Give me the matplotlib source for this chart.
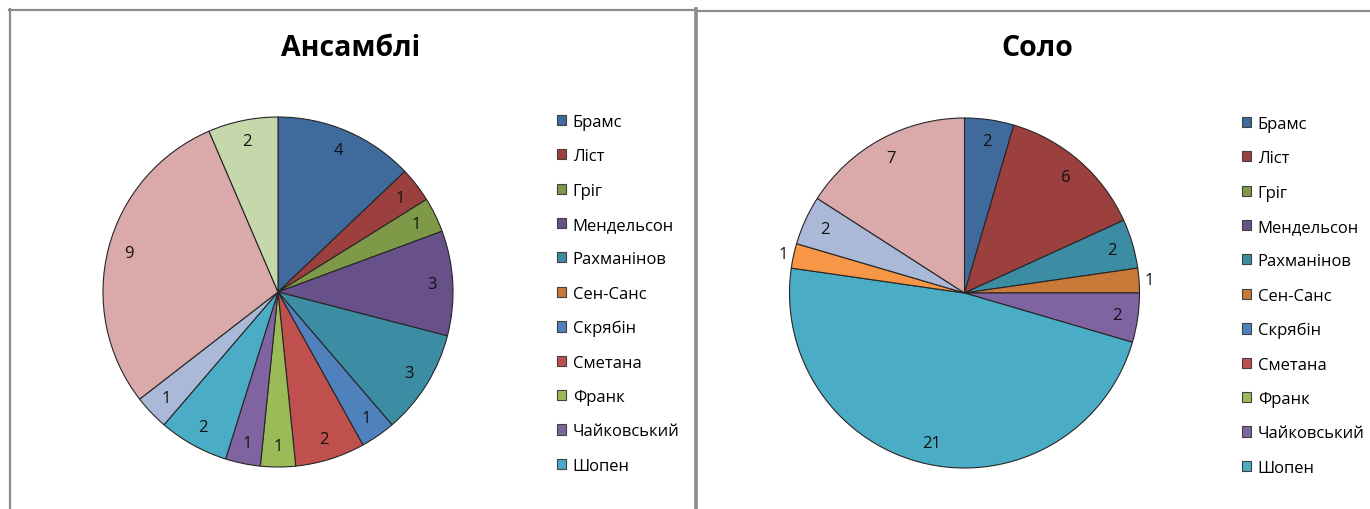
import matplotlib
matplotlib.use('Agg')
import matplotlib.pyplot as plt
from matplotlib.patches import Patch
from matplotlib.lines import Line2D
import numpy as np

plt.rcParams['font.family'] = ['Open Sans', 'DejaVu Sans']

# Categories (the last four are cut off from the legend in the original chart)
composers = ['Брамс', 'Ліст', 'Гріг', 'Мендельсон', 'Рахманінов', 'Сен-Санс',
             'Скрябін', 'Сметана', 'Франк', 'Чайковський', 'Шопен',
             '', '', '', '']
legend_count = 11

ensemble_values = [4, 1, 1, 3, 3, 0, 1, 2, 1, 1, 2, 0, 1, 9, 2]
solo_values = [2, 6, 0, 0, 2, 1, 0, 0, 0, 2, 21, 1, 2, 7, 0]

colors = ['#3F6A9C', '#9B403E', '#7E9A48', '#685088', '#3C8DA3', '#C97A38',
          '#4F81BD', '#C0504D', '#9BBB59', '#8064A2', '#4BACC6', '#F79646',
          '#AAB9D7', '#D9AAA9', '#C6D7AC']

titles = ['Ансамблі', 'Соло']

W, H = 1370, 510
fig = plt.figure(figsize=(W / 100, H / 100), dpi=100)


def px_axes(x0, y0, x1, y1):
    return fig.add_axes([x0 / W, 1 - y1 / H, (x1 - x0) / W, (y1 - y0) / H])


def fx(x):
    return x / W


def fy(y):
    return 1 - y / H


# panel borders
border = '#8C8C8C'
fig.add_artist(Line2D([fx(9.5), fx(9.5)], [fy(10), fy(512)], color=border, lw=1.6))
fig.add_artist(Line2D([fx(9), fx(695)], [fy(10.5), fy(10.5)], color=border, lw=1.6))
fig.add_artist(Line2D([fx(696), fx(696)], [fy(10), fy(512)], color=border, lw=2.6))
fig.add_artist(Line2D([fx(697), fx(1372)], [fy(11.8), fy(11.8)], color=border, lw=1.6))


def draw(values, center, title, title_xy, legend_xy):
    cx, cy = center
    r = 175
    ax = px_axes(cx - r, cy - r, cx + r, cy + r)
    vals = [v for v in values if v > 0]
    cols = [c for v, c in zip(values, colors) if v > 0]
    wedges, _ = ax.pie(vals, colors=cols, startangle=90, counterclock=False,
                       wedgeprops=dict(edgecolor='#262626', linewidth=0.8))
    ax.set_xlim(-1, 1)
    ax.set_ylim(-1, 1)
    ax.set_aspect('equal')
    ax.axis('off')
    total = sum(vals)
    for w, v in zip(wedges, vals):
        ang = np.deg2rad((w.theta1 + w.theta2) / 2)
        d = 0.88 if v / total > 0.03 else 1.06
        ax.text(d * np.cos(ang), d * np.sin(ang), str(v), ha='center',
                va='center', fontsize=12, color='#111111')
    fig.text(fx(title_xy[0]), fy(title_xy[1]), title, ha='center', va='center',
             fontsize=20.5, fontweight='bold', color='#000000')
    handles = [Patch(facecolor=c, edgecolor='#404040', linewidth=0.8)
               for c in colors[:legend_count]]
    fig.legend(handles, composers[:legend_count], loc='upper left',
               bbox_to_anchor=(fx(legend_xy[0]), fy(legend_xy[1])),
               frameon=False, fontsize=12, handlelength=0.55, handleheight=0.55,
               handletextpad=0.4, labelspacing=1.1, borderpad=0, borderaxespad=0)


draw(ensemble_values, (278, 293), titles[0], (351, 48), (557, 115))
draw(solo_values, (964.5, 294), titles[1], (1037, 48), (1242, 117))

fig.savefig('out.png', dpi=100)
